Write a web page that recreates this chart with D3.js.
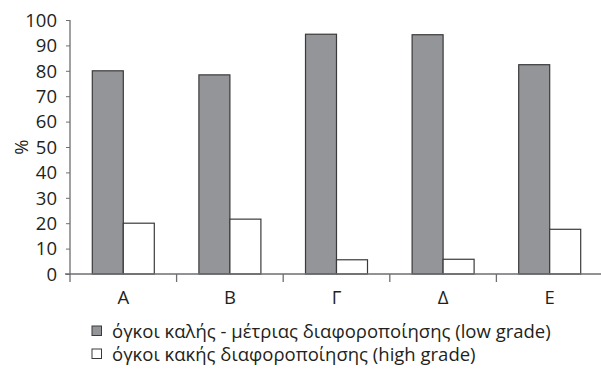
<!DOCTYPE html>
<html>
<head>
<meta charset="utf-8">
<script src="https://cdn.jsdelivr.net/npm/d3@7"></script>
<style>
  html, body { margin: 0; padding: 0; background: #fff; }
  svg { display: block; font-family: "Open Sans", "Noto Sans", sans-serif; }
</style>
</head>
<body>
<svg id="chart" width="601" height="372"></svg>
<script>
// Tumour grade share (%) per group
const categories = ["Α", "Β", "Γ", "Δ", "Ε"];
const lowGrade  = [80, 78.4, 94.4, 94.2, 82.4];
const highGrade = [20, 21.6, 5.6, 5.8, 17.6];
const seriesNames = [
  "όγκοι καλής - μέτριας διαφοροποίησης (low grade)",
  "όγκοι κακής διαφοροποίησης (high grade)"
];
const yTicks = [0, 10, 20, 30, 40, 50, 60, 70, 80, 90, 100];

const svg = d3.select("#chart");
const margin = { left: 70, right: -2, top: 20, bottom: 98 };
const W = 601, H = 372;
const plotW = W - margin.left - margin.right;
const plotH = H - margin.top - margin.bottom;

const g = svg.append("g").attr("transform", `translate(${margin.left},${margin.top})`);

const x = d3.scaleBand().domain(categories).range([0, plotW]).paddingInner(0).paddingOuter(0);
const x1 = d3.scaleBand().domain([0, 1]).range([0, 62]);
const y = d3.scaleLinear().domain([0, 100]).range([plotH, 0]);

const fills = ["#939598", "#ffffff"];
const strokes = ["#3a3a3a", "#3a3a3a"];
const series = [lowGrade, highGrade];

// Bars
categories.forEach((c, i) => {
  const cx = x(c) + x.bandwidth() / 2 - 31;
  series.forEach((vals, s) => {
    g.append("rect")
      .attr("x", cx + x1(s))
      .attr("y", y(vals[i]))
      .attr("width", x1.bandwidth())
      .attr("height", y(0) - y(vals[i]))
      .attr("fill", fills[s])
      .attr("stroke", strokes[s])
      .attr("stroke-width", 1.2);
  });
});

// Y axis
const yAxis = d3.axisLeft(y).tickValues(yTicks).tickSize(4).tickPadding(9);
const ya = g.append("g").call(yAxis);
ya.select(".domain").attr("stroke", "#6d6e71").attr("stroke-width", 1.3)
  .attr("d", `M0,0V${plotH + 8}`);
ya.selectAll(".tick line").attr("stroke", "#6d6e71");
ya.selectAll(".tick text").attr("font-size", 18.5).attr("fill", "#231f20")
  .attr("font-family", "Open Sans").attr("dy", "0.34em");

// X axis: ticks at category boundaries
const xa = g.append("g").attr("transform", `translate(0,${plotH})`);
xa.append("line").attr("x1", -5).attr("x2", plotW).attr("y1", 0).attr("y2", 0)
  .attr("stroke", "#6d6e71").attr("stroke-width", 1.3);
categories.slice(1).forEach(c => {
  xa.append("line").attr("x1", x(c)).attr("x2", x(c)).attr("y1", 0).attr("y2", 8)
    .attr("stroke", "#6d6e71").attr("stroke-width", 1.3);
});
categories.forEach(c => {
  xa.append("text")
    .attr("x", x(c) + x.bandwidth() / 2)
    .attr("y", 30)
    .attr("text-anchor", "middle")
    .attr("font-size", 18.5)
    .attr("fill", "#231f20")
    .text(c);
});

// Y axis title
svg.append("text")
  .attr("transform", "translate(28,147) rotate(-90)")
  .attr("text-anchor", "middle")
  .attr("font-size", 18.5)
  .attr("fill", "#231f20")
  .text("%");

// Legend
const legend = svg.append("g").attr("transform", "translate(92,326)");
seriesNames.forEach((name, s) => {
  const row = legend.append("g").attr("transform", `translate(0,${s * 23})`);
  row.append("rect").attr("x", 0).attr("y", 0).attr("width", 9.5).attr("height", 9.5)
    .attr("fill", fills[s]).attr("stroke", "#3a3a3a").attr("stroke-width", 1);
  row.append("text").attr("x", 20).attr("y", 11.5)
    .attr("font-size", 18.5).attr("fill", "#231f20").text(name);
});
</script>
</body>
</html>
